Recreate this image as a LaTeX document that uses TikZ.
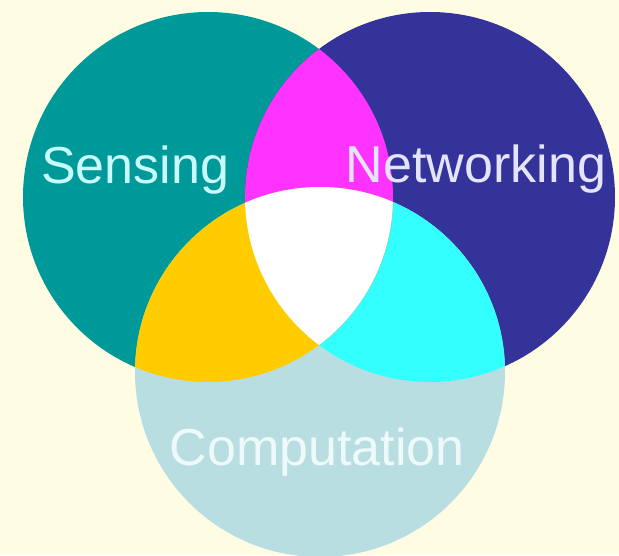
\documentclass[tikz,border=0pt]{standalone}
\usepackage{fontspec}
\setmainfont{Liberation Sans}
\usepackage{xcolor}

\definecolor{bgcream}{RGB}{254,253,228}
\definecolor{sensteal}{RGB}{0,153,153}
\definecolor{netnavy}{RGB}{51,51,153}
\definecolor{compblue}{RGB}{184,222,226}
\definecolor{overmag}{RGB}{255,51,255}
\definecolor{overyel}{RGB}{255,204,0}
\definecolor{overcyan}{RGB}{51,255,255}
\definecolor{senstext}{RGB}{200,252,252}
\definecolor{nettext}{RGB}{228,228,255}
\definecolor{comptext}{RGB}{238,250,250}

\begin{document}
\begin{tikzpicture}[x=1pt, y=-1pt,
    venn/.style={circle, minimum size=370pt, inner sep=0pt},
    areatext/.style={font=\fontsize{52}{60}\selectfont, inner sep=0pt, anchor=base}]
        % Background
        \fill[bgcream] (0,0) rectangle (619,555);
        \useasboundingbox (0,0) rectangle (619,555);

        % Circles
        \node[venn, fill=sensteal] (sens) at (208,197) {};
        \node[venn, fill=netnavy] (net) at (430,197) {};
        \node[venn, fill=compblue] (comp) at (320,372) {};

        % Overlaps
        \begin{scope}
            \clip (net.center) circle (185pt);
            \fill[overcyan] (comp.center) circle (185pt);
        \end{scope}
        \begin{scope}
            \clip (sens.center) circle (185pt);
            \fill[overmag] (net.center) circle (185pt);
            \fill[overyel] (comp.center) circle (185pt);
            \clip (net.center) circle (185pt);
            \fill[white] (comp.center) circle (185pt);
        \end{scope}

        % Labels
        \node[areatext, text=senstext] (senslbl) at (135,183) {Sensing};
        \node[areatext, text=nettext] (netlbl) at (476,182) {Networking};
        \node[areatext, text=comptext] (complbl) at (317,465) {Computation};
    \end{tikzpicture}
\end{document}
